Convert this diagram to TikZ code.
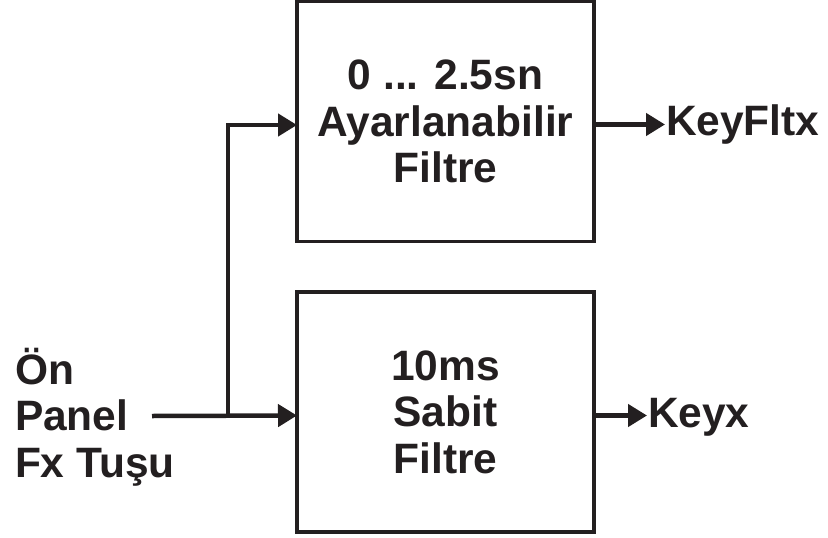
\documentclass[tikz,border=0pt]{standalone}
\usepackage{fontspec}
\setmainfont{Liberation Sans}
\usepackage{tikz}
\usetikzlibrary{arrows.meta,positioning}
\definecolor{ink}{HTML}{231F20}
\newcommand{\diagfont}{\fontsize{42.5bp}{46.5bp}\selectfont\bfseries}
\tikzset{
  filterbox/.style={
    rectangle, draw=ink, line width=3.2bp,
    minimum width=297bp, minimum height=240bp,
    align=center, inner sep=0pt, outer sep=0pt, text=ink
  },
  sigarrow/.style={
    -{Triangle[length=19bp,width=22bp]}, line width=4.5bp, color=ink
  },
  siglabel/.style={align=left, inner sep=1bp, outer sep=0pt, text=ink},
}

\begin{document}
\begin{tikzpicture}[font=\diagfont]
  \useasboundingbox (0,0) rectangle (828bp,-538bp);
  \node[filterbox] at (445.5bp,-121.5bp) (adj) {0 ... 2.5sn\\Ayarlanabilir\\Filtre};
  \node[filterbox, below=50.5bp of adj] (fixed) {10ms\\Sabit\\Filtre};
  \node[siglabel, anchor=west] at (14bp,-417bp) (panel) {Ön\\Panel\\Fx Tuşu};
  \coordinate (src) at (152bp,-416bp);
  \coordinate (split) at (228bp,-416bp);
  \draw[sigarrow] (src) -- ([yshift=-3.5bp]fixed.west);
  \draw[sigarrow] (split) |- ([yshift=-3.5bp]adj.west);
  \node[siglabel, right=71bp of adj, yshift=-3bp] (fltx) {KeyFltx};
  \node[siglabel, right=53bp of fixed, yshift=-5bp] (keyx) {Keyx};
  \draw[sigarrow] ([yshift=-3bp]adj.east) -- ([yshift=-3bp]adj.east -| fltx.west);
  \draw[sigarrow] ([yshift=-3.5bp]fixed.east) -- ([yshift=-3.5bp]fixed.east -| keyx.west);
\end{tikzpicture}
\end{document}
